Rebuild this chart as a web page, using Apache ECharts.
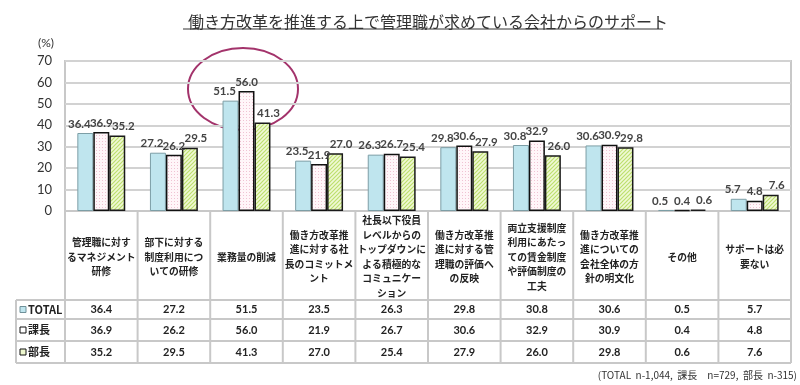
<!DOCTYPE html>
<html><head><meta charset="utf-8">
<script src="https://cdn.jsdelivr.net/npm/echarts@6/dist/echarts.min.js"></script>
<style>html,body{margin:0;padding:0;background:#fff}#c{width:800px;height:385px}</style>
</head><body><div id="c"></div>
<script>
var titleText = '働き方改革を推進する上で管理職が求めている会社からのサポート';
var categories = ['管理職に対す\nるマネジメント\n研修','部下に対する\n制度利用につ\nいての研修','業務量の削減','働き方改革推\n進に対する社\n長のコミットメ\nント','社長以下役員\nレベルからの\nトップダウンに\nよる積極的な\nコミュニケー\nション','働き方改革推\n進に対する管\n理職の評価へ\nの反映','両立支援制度\n利用にあたっ\nての賃金制度\nや評価制度の\n工夫','働き方改革推\n進についての\n会社全体の方\n針の明文化','その他','サポートは必\n要ない'];
var seriesNames = ['TOTAL','課長','部長'];
var totalValues = [36.4,27.2,51.5,23.5,26.3,29.8,30.8,30.6,0.5,5.7];
var kachoValues = [36.9,26.2,56.0,21.9,26.7,30.6,32.9,30.9,0.4,4.8];
var buchoValues = [35.2,29.5,41.3,27.0,25.4,27.9,26.0,29.8,0.6,7.6];
var yTicks = [0,10,20,30,40,50,60,70];
var footnote = '(TOTAL  n-1,044,  課長　n=729,  部長  n-315)';

function pattern(kind){
  var c=document.createElement('canvas');
  if(kind==='dots'){
    c.width=3;c.height=3;var g=c.getContext('2d');
    g.fillStyle='#fff6f9';g.fillRect(0,0,3,3);
    g.fillStyle='#f0c3d3';g.fillRect(0,0,1,1);
  } else {
    c.width=4;c.height=4;var g=c.getContext('2d');
    g.fillStyle='#f0f9d6';g.fillRect(0,0,4,4);
    g.strokeStyle='#bddf6e';g.lineWidth=1.2;
    g.beginPath();g.moveTo(-1,5);g.lineTo(5,-1);g.moveTo(-1,1);g.lineTo(1,-1);g.moveTo(3,5);g.lineTo(5,3);g.stroke();
  }
  return {image:c,repeat:'repeat'};
}

var GL=65, GR=9, GT=61, GB=174, W=800;
var FONT='"Noto Sans CJK JP", "Noto Sans", sans-serif';
var allVals=[totalValues,kachoValues,buchoValues];
var rowCenters=[309.5,330,352];

var xAxes=[{
  type:'category',data:categories,gridIndex:0,
  axisLine:{lineStyle:{color:'#c8c8c8',width:2}},axisTick:{show:false},
  axisLabel:{interval:0,margin:46,verticalAlign:'middle',fontSize:9.8,fontWeight:'bold',color:'#222',lineHeight:14.5,fontFamily:FONT}
}];
allVals.forEach(function(vals,i){
  xAxes.push({type:'category',data:vals.map(function(v){return v.toFixed(1);}),position:'bottom',
    axisLine:{show:false},axisTick:{show:false},splitLine:{show:false},
    axisLabel:{interval:0,margin:rowCenters[i]-211,verticalAlign:'middle',fontSize:11,fontWeight:'bold',color:'#222',fontFamily:'Lato, "Noto Sans", sans-serif'}});
});

var barStyles=[
  {color:'#bfe5ee',borderColor:'#7d9ea6',borderWidth:1},
  {color:pattern('dots'),borderColor:'#111',borderWidth:1.5},
  {color:pattern('hatch'),borderColor:'#1a1a1a',borderWidth:1.5}
];
var labelShift=[-6,0,6];

var series=allVals.map(function(vals,i){
  return {name:seriesNames[i],type:'bar',xAxisIndex:0,data:vals,barGap:'0%',barCategoryGap:'34%',
    itemStyle:barStyles[i],
    label:{show:true,position:'top',distance:3,offset:[labelShift[i],0],fontSize:11.5,fontWeight:'bold',color:'#444',fontFamily:'Lato, "Noto Sans", sans-serif',formatter:function(p){return p.value.toFixed(1);}}};
});

var gfx=[];
var band=(W-GL-GR)/categories.length;
var lineC='#c8c8c8', tableTop=211, tableBot=363, rowLines=[300,319,341,363];
for(var i=0;i<=categories.length;i++){
  var x=GL+i*band;
  gfx.push({type:'line',shape:{x1:x,y1:tableTop,x2:x,y2:tableBot},style:{stroke:lineC,lineWidth:2}});
}
gfx.push({type:'line',shape:{x1:16,y1:rowLines[0],x2:16,y2:tableBot},style:{stroke:lineC,lineWidth:2}});
rowLines.forEach(function(y){gfx.push({type:'line',shape:{x1:16,y1:y,x2:W-GR,y2:y},style:{stroke:lineC,lineWidth:2}});});
var iconFill=['#bfe5ee','#ffffff','#eef8cf'], iconStroke=['#6f9099','#111','#111'];
seriesNames.forEach(function(n,i){
  gfx.push({type:'rect',shape:{x:20,y:rowCenters[i]-3,width:6,height:6},style:{fill:iconFill[i],stroke:iconStroke[i],lineWidth:1}});
  gfx.push({type:'text',x:28,y:rowCenters[i],style:{text:n,fontSize:11,fontWeight:'bold',fill:'#222',fontFamily:FONT,verticalAlign:'middle'}});
});
gfx.push({type:'ellipse',shape:{cx:243,cy:89,rx:55,ry:41},style:{fill:null,stroke:'#a3336b',lineWidth:2}});
var TX=183, TFS=16;
gfx.push({type:'line',shape:{x1:TX,y1:29,x2:TX+titleText.length*TFS,y2:29},style:{stroke:'#333',lineWidth:1}});
gfx.push({type:'text',x:797,y:375,style:{text:footnote,fontSize:10,fill:'#333',align:'right',verticalAlign:'middle',fontFamily:FONT}});
gfx.push({type:'text',x:46,y:43,style:{text:'(%)',fontSize:12,fill:'#333',align:'center',verticalAlign:'middle',fontFamily:'Lato, sans-serif'}});

var chart=echarts.init(document.getElementById('c'),null,{renderer:'canvas'});
chart.setOption({
  animation:false,
  backgroundColor:'#fff',
  title:{text:titleText,left:TX,top:9,textStyle:{fontSize:TFS,fontWeight:'normal',color:'#333',fontFamily:FONT}},
  grid:{left:GL,right:GR,top:GT,bottom:GB,show:true,borderColor:'#c8c8c8',borderWidth:2},
  xAxis:xAxes,
  yAxis:{type:'value',min:yTicks[0],max:yTicks[yTicks.length-1],interval:10,
    axisLine:{show:false},axisTick:{show:false},
    splitLine:{lineStyle:{color:'#d2d2d2',width:2}},
    axisLabel:{fontSize:13,color:'#333',margin:13,fontFamily:'Lato, sans-serif'}},
  series:series,
  graphic:gfx
});
</script></body></html>
